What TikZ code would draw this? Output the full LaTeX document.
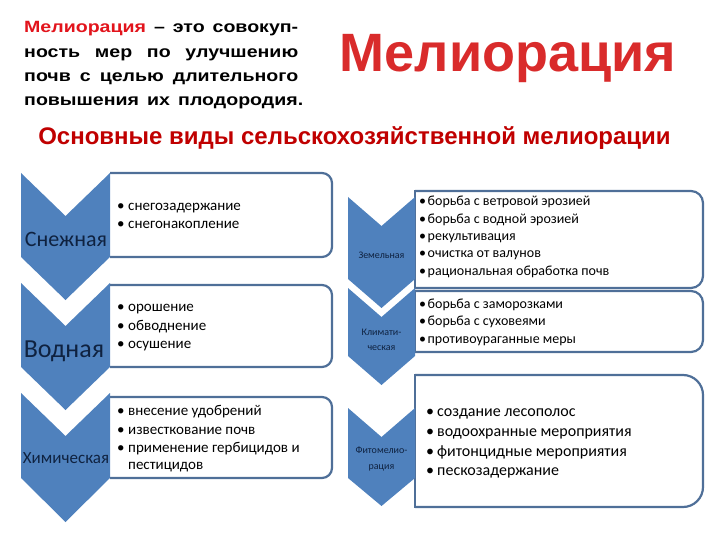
\documentclass[tikz,border=0pt]{standalone}
\usepackage{fontspec}
\setmainfont{Liberation Sans}
\newfontfamily\calfont{Carlito}
\newfontfamily\parafont[FakeStretch=1.2]{Liberation Sans}
\definecolor{chevblue}{HTML}{4F81BD}
\definecolor{boxblue}{HTML}{4F6F98}
\definecolor{labnavy}{HTML}{0F2240}
\definecolor{redtxt}{HTML}{E2141C}
\definecolor{titlered}{HTML}{D92B2B}
\definecolor{subred}{HTML}{C00000}
\newcommand\blt[1]{\makebox[#1][l]{•}}
\tikzset{
  chev/.style={fill=chevblue, draw=none},
  boxline/.style={draw=boxblue, line width=2.2pt, rounded corners=#1},
  boxline/.default=10pt,
  boxside/.style={draw=boxblue, line width=2.2pt, line cap=rect},
  para/.style={anchor=base west, inner sep=0pt, font=\parafont\bfseries\fontsize{16.3}{18}\selectfont},
  itemL/.style={anchor=base west, inner sep=0pt, font=\calfont\fontsize{15}{17}\selectfont},
  itemR/.style={anchor=base west, inner sep=0pt, font=\calfont\fontsize{14}{16}\selectfont},
  itemRR/.style={anchor=base west, inner sep=0pt, font=\calfont\fontsize{16}{18}\selectfont},
  lab/.style={anchor=base, inner sep=0pt, text=labnavy},
}
\begin{document}
\begin{tikzpicture}[x=1pt,y=-1pt]
\useasboundingbox (0,0) rectangle (720,540);

% ---- header text
\node[para] (p1) at (24,33) {\makebox[274pt][s]{\textcolor{redtxt}{Мелиорация} – это совокуп-}};
\node[para] (p2) at (24,57.5) {\makebox[274pt][s]{ность мер по улучшению}};
\node[para] (p3) at (24,82) {\makebox[274pt][s]{почв с целью длительного}};
\node[para] (p4) at (24,106) {\makebox[279pt][s]{повышения их плодородия.}};

\node[anchor=base, inner sep=0pt, font=\bfseries\fontsize{54}{58}\selectfont, text=titlered] (title) at (508,72) {Мелиорация};

\node[anchor=base, inner sep=0pt, font=\bfseries\fontsize{24}{27}\selectfont, text=subred] (sub) at (354.5,145) {Основные виды сельскохозяйственной мелиорации};

% ---- left boxes
\draw[boxline] (110,173) -- (332,173) -- (332,257) -- (110,257);
\draw[boxline] (110,285) -- (332,285) -- (332,367) -- (110,367);
\draw[boxline] (110,397) -- (332,397) -- (332,478) -- (110,478);

% ---- right boxes
\draw[boxline=12pt] (415,191) -- (703,191) -- (703,288) -- (415,288);
\draw[boxside] (415,191) -- (415,288);
\draw[boxline=12pt] (415,291) -- (703,291) -- (703,352) -- (415,352);
\draw[boxside] (415,291) -- (415,352);
\draw[boxline=20pt] (415,375) -- (703,375) -- (703,507) -- (415,507);
\draw[boxside] (415,375) -- (415,507);

% ---- left chevrons
\fill[chev] (21,173) -- (65.5,216) -- (110,173) -- (110,257) -- (65.5,300) -- (21,257) -- cycle;
\fill[chev] (21,283) -- (65.5,326) -- (110,283) -- (110,367) -- (65.5,410) -- (21,367) -- cycle;
\fill[chev] (21,393) -- (65.5,436) -- (110,393) -- (110,478) -- (65.5,522) -- (21,478) -- cycle;

% ---- right chevrons
\fill[chev] (348,197) -- (381.5,226) -- (415,197) -- (415,279) -- (381.5,308) -- (348,279) -- cycle;
\fill[chev] (348,288) -- (381.5,317) -- (415,288) -- (415,356) -- (381.5,385) -- (348,356) -- cycle;
\fill[chev] (348,408) -- (381.5,437) -- (415,408) -- (415,478) -- (381.5,506) -- (348,478) -- cycle;

% ---- chevron labels
\node[lab, font=\calfont\fontsize{22}{24}\selectfont] (c1) at (66,246) {Снежная};
\node[lab, font=\calfont\fontsize{26}{28}\selectfont] (c2) at (64,357) {Водная};
\node[lab, font=\calfont\fontsize{17}{19}\selectfont] (c3) at (66,463) {Химическая};
\node[lab, font=\calfont\fontsize{10}{11}\selectfont] (r1) at (381.5,258.5) {Земельная};
\node[lab, font=\calfont\fontsize{10}{11}\selectfont] (r2a) at (381.5,335) {Климати-};
\node[lab, font=\calfont\fontsize{10}{11}\selectfont] (r2b) at (381.5,350) {ческая};
\node[lab, font=\calfont\fontsize{10}{11}\selectfont] (r3a) at (381.5,453) {Фитомелио-};
\node[lab, font=\calfont\fontsize{10}{11}\selectfont] (r3b) at (381.5,469) {рация};

% ---- left box items
\node[itemL] (l1a) at (117,210.5) {\blt{11pt}снегозадержание};
\node[itemL] (l1b) at (117,228.5) {\blt{11pt}снегонакопление};
\node[itemL] (l2a) at (117,311.5) {\blt{11pt}орошение};
\node[itemL] (l2b) at (117,330) {\blt{11pt}обводнение};
\node[itemL] (l2c) at (117,348.5) {\blt{11pt}осушение};
\node[itemL] (l3a) at (117,415.5) {\blt{11pt}внесение удобрений};
\node[itemL] (l3b) at (117,434) {\blt{11pt}известкование почв};
\node[itemL] (l3c) at (117,452.5) {\blt{11pt}применение гербицидов и};
\node[itemL] (l3d) at (128,469) {пестицидов};

% ---- right box items
\node[itemR] (q1a) at (419,206) {\blt{8.5pt}борьба с ветровой эрозией};
\node[itemR] (q1b) at (419,223) {\blt{8.5pt}борьба с водной эрозией};
\node[itemR] (q1c) at (419,240.5) {\blt{8.5pt}рекультивация};
\node[itemR] (q1d) at (419,258) {\blt{8.5pt}очистка от валунов};
\node[itemR] (q1e) at (419,275.5) {\blt{8.5pt}рациональная обработка почв};
\node[itemR] (q2a) at (419,308.5) {\blt{8.5pt}борьба с заморозками};
\node[itemR] (q2b) at (419,325.5) {\blt{8.5pt}борьба с суховеями};
\node[itemR] (q2c) at (419,343) {\blt{8.5pt}противоураганные меры};
\node[itemRR] (q3a) at (426,416) {\blt{11pt}создание лесополос};
\node[itemRR] (q3b) at (426,436) {\blt{11pt}водоохранные мероприятия};
\node[itemRR] (q3c) at (426,456) {\blt{11pt}фитонцидные мероприятия};
\node[itemRR] (q3d) at (426,475.5) {\blt{11pt}пескозадержание};
\end{tikzpicture}
\end{document}
